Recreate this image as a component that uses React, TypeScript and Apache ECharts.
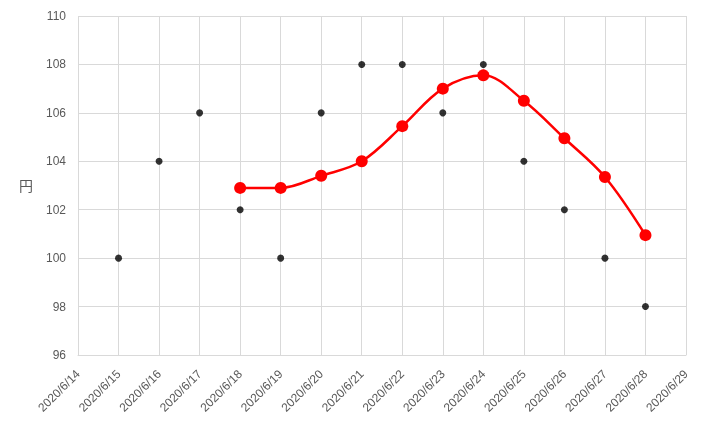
import React, { useEffect, useRef } from "react";
import * as echarts from "echarts";

const categories = [
  "2020/6/14", "2020/6/15", "2020/6/16", "2020/6/17", "2020/6/18", "2020/6/19", "2020/6/20", "2020/6/21",
  "2020/6/22", "2020/6/23", "2020/6/24", "2020/6/25", "2020/6/26", "2020/6/27", "2020/6/28", "2020/6/29",
];
const priceValues: (number | null)[] = [null, 100, 104, 106, 102, 100, 106, 108, 108, 106, 108, 104, 102, 100, 98, null];
const averageValues: (number | null)[] = [null, null, null, null, 102.9, 102.9, 103.4, 104.0, 105.45, 107.0, 107.55, 106.5, 104.95, 103.35, 100.95, null];
const yAxisName = "円";

export default function App() {
  const ref = useRef<HTMLDivElement>(null);
  useEffect(() => {
    const chart = echarts.init(ref.current!, null, { renderer: "svg" });
    const font = "'Liberation Sans', Arial, sans-serif";
    chart.setOption({
      animation: false,
      grid: { left: 78, right: 20, top: 16, bottom: 72 },
      xAxis: {
        type: "category",
        data: categories,
        boundaryGap: false,
        axisLine: { show: true, lineStyle: { color: "#d9d9d9", width: 1 } },
        axisTick: { show: false },
        splitLine: { show: true, lineStyle: { color: "#d9d9d9", width: 1 } },
        axisLabel: { interval: 0, rotate: 45, color: "#595959", fontSize: 12, fontFamily: font, margin: 17 },
      },
      yAxis: {
        type: "value",
        min: 96,
        max: 110,
        interval: 2,
        axisLine: { show: false },
        axisTick: { show: false },
        splitLine: { lineStyle: { color: "#d9d9d9", width: 1 } },
        axisLabel: { color: "#595959", fontSize: 12, fontFamily: font, margin: 12 },
      },
      graphic: [
        {
          type: "text",
          left: 19,
          top: 178,
          style: { text: yAxisName, fill: "#595959", fontSize: 14, fontFamily: "'Noto Sans CJK JP', sans-serif" },
        },
      ],
      series: [
        {
          type: "line",
          data: averageValues,
          smooth: 0.35,
          connectNulls: false,
          symbol: "circle",
          symbolSize: 12,
          lineStyle: { color: "#ff0000", width: 2.5 },
          itemStyle: { color: "#ff0000" },
          z: 2,
        },
        {
          type: "scatter",
          data: priceValues,
          symbol: "circle",
          symbolSize: 7,
          itemStyle: { color: "#000000" },
          z: 3,
        },
      ],
    });
    return () => chart.dispose();
  }, []);
  return <div ref={ref} style={{ position: "fixed", left: 0, top: 0, width: 706, height: 427 }} />;
}
